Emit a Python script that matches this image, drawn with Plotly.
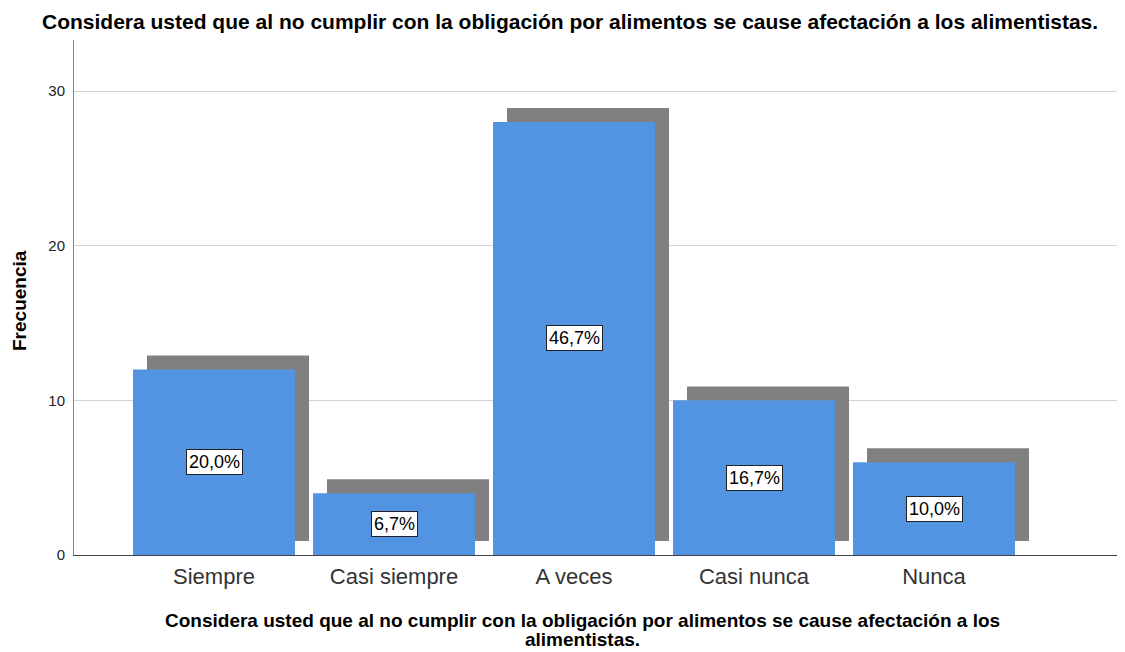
import plotly.graph_objects as go

categories = ["Siempre", "Casi siempre", "A veces", "Casi nunca", "Nunca"]
frequencies = [12, 4, 28, 10, 6]
y_ticks = [0, 10, 20, 30]

title_text = "Considera usted que al no cumplir con la obligación por alimentos se cause afectación a los alimentistas."
x_title_lines = ["Considera usted que al no cumplir con la obligación por alimentos se cause afectación a los",
                 "alimentistas."]
y_title = "Frecuencia"

total = sum(frequencies)
pct_labels = [f"{v / total * 100:.1f}%".replace(".", ",") for v in frequencies]
xs = list(range(len(categories)))

BAR = "#5294E2"
SHADOW = "#808080"
W = 0.9
dx = 14 / 180
dy = 0.9

OFF = 8  # page body margin
FW, FH = 1125 - OFF, 652 - OFF
# plot area in reference (window) pixels
L, R, T, B = 74, 1125, 40, 555
PW, PH = R - L, B - T

def px(xp):
    return (xp - L) / PW

def py(yp):
    return (B - yp) / PH

FONT = "Liberation Sans, Arial"

fig = go.Figure()
fig.add_trace(go.Bar(x=[x + dx for x in xs], y=frequencies, base=[dy] * len(xs), width=W,
                     marker=dict(color=SHADOW, line=dict(width=0)), hoverinfo="skip"))
fig.add_trace(go.Bar(x=xs, y=frequencies, width=W,
                     marker=dict(color=BAR, line=dict(width=0))))

for x, v, t in zip(xs, frequencies, pct_labels):
    fig.add_annotation(x=x, y=v / 2, text=t, showarrow=False, xref="x", yref="y",
                       font=dict(family=FONT, size=18, color="#000"),
                       bgcolor="white", bordercolor="#222", borderwidth=1, borderpad=2)

for line, yp in zip(x_title_lines, [620, 639]):
    fig.add_annotation(x=px(582), y=py(yp), xref="paper", yref="paper", text="<b>" + line + "</b>",
                       showarrow=False, font=dict(family=FONT, size=19, color="#000"),
                       xanchor="center", yanchor="middle")

fig.add_annotation(x=px(19), y=py(301), xref="paper", yref="paper", text="<b>" + y_title + "</b>",
                   showarrow=False, textangle=-90, font=dict(family=FONT, size=19, color="#000"),
                   xanchor="center", yanchor="middle")

fig.add_annotation(x=px(570), y=py(22), xref="paper", yref="paper", text="<b>" + title_text + "</b>",
                   showarrow=False, font=dict(family=FONT, size=21, color="#000"),
                   xanchor="center", yanchor="middle")

fig.update_layout(
    width=FW, height=FH,
    margin=dict(l=L - OFF, r=1125 - R, t=T - OFF, b=652 - B),
    paper_bgcolor="white", plot_bgcolor="white",
    barmode="overlay", showlegend=False,
    xaxis=dict(range=[(L - 214) / 180, (R - 214) / 180], tickvals=xs, ticktext=categories,
               showgrid=False, zeroline=False, showline=True, linecolor="#444", linewidth=1,
               ticks="", automargin=False, ticklabelstandoff=2,
               tickfont=dict(family=FONT, size=22, color="#333")),
    yaxis=dict(range=[0, 33.3], tickvals=y_ticks, showgrid=True, gridcolor="#d4d4d4", gridwidth=1,
               zeroline=False, showline=True, linecolor="#888", linewidth=1, ticks="",
               automargin=False, ticklabelstandoff=5,
               tickfont=dict(family=FONT, size=15, color="#222")),
)

fig.write_html("out.html")
